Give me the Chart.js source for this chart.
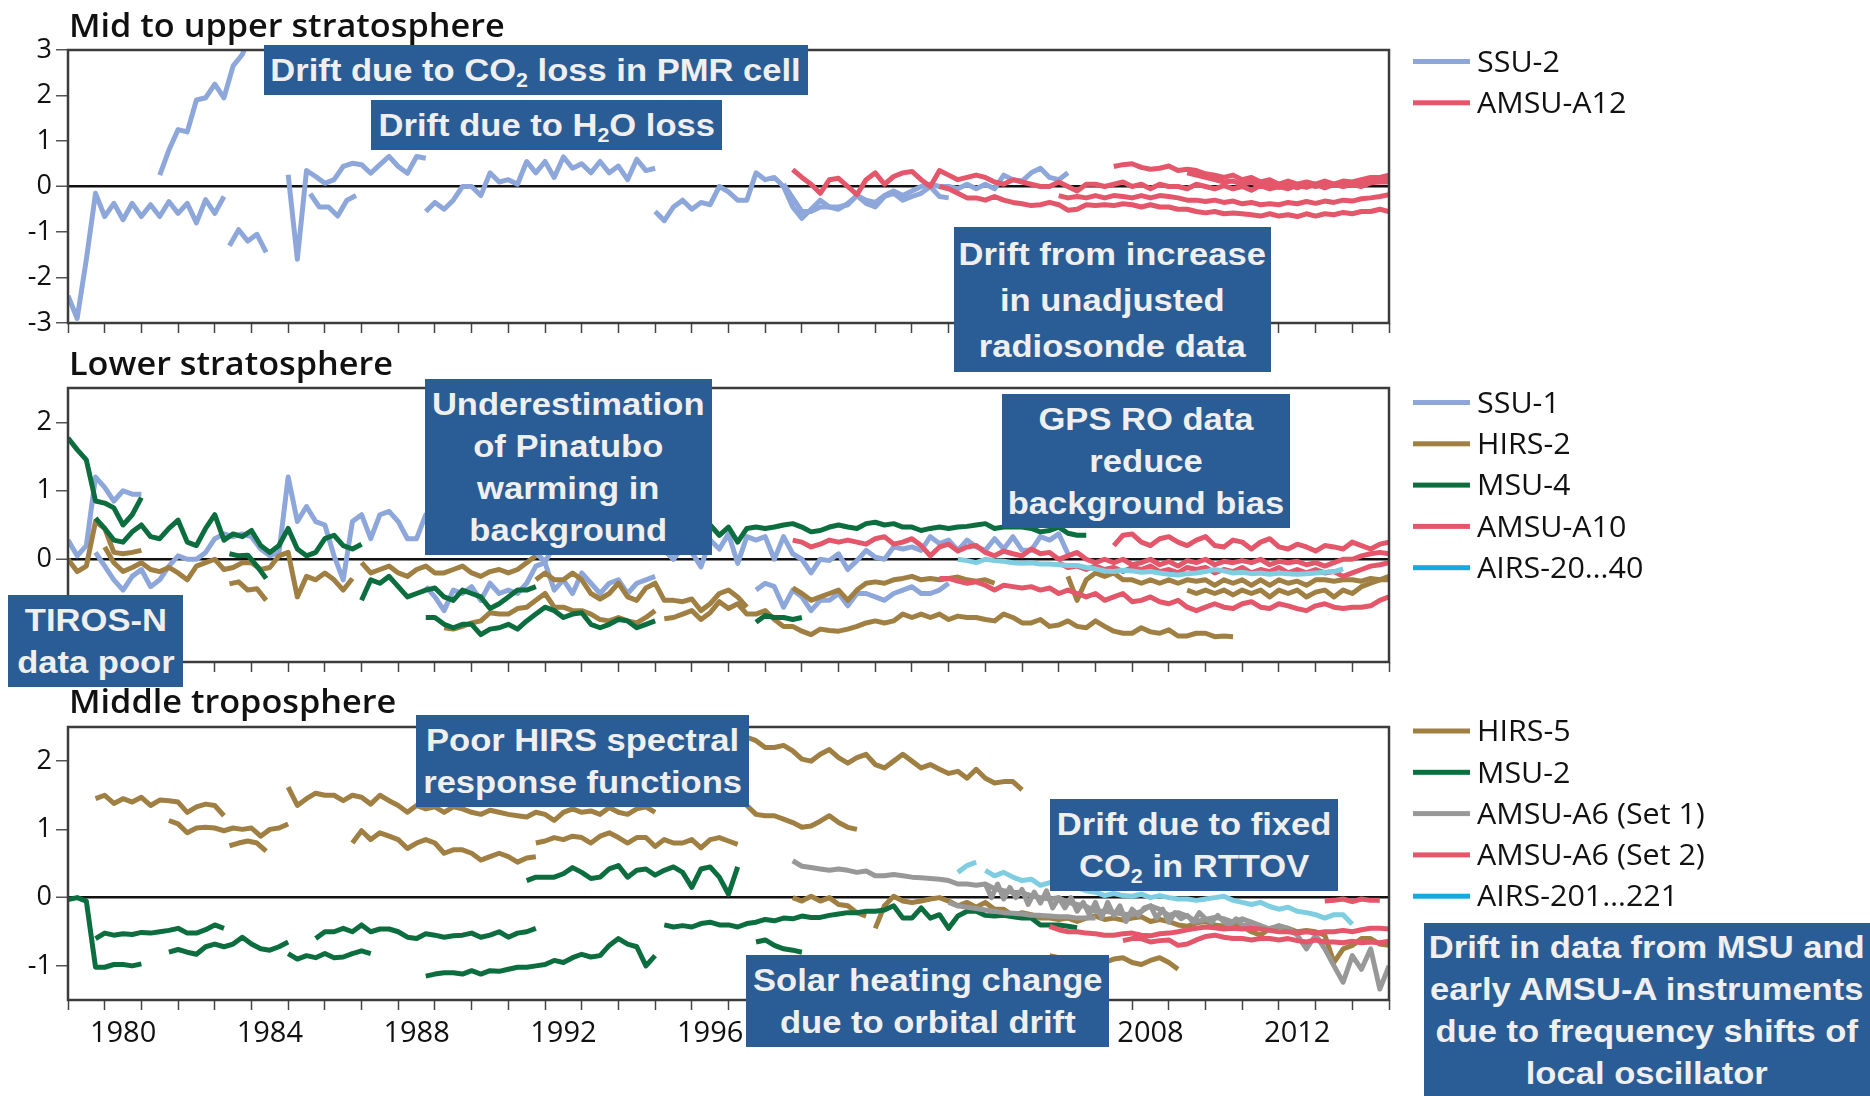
<!DOCTYPE html>
<html>
<head>
<meta charset="utf-8">
<script src="https://cdn.jsdelivr.net/npm/chart.js@4.4.1/dist/chart.umd.min.js"></script>
<style>
  html, body { margin: 0; padding: 0; background: #fff; }
  #wrap { position: relative; width: 1870px; height: 1096px; overflow: hidden; }
  canvas { position: absolute; left: 0; top: 0; }
  .note { position: absolute; background: #2a5c96; color: #efefef; display: flex;
          align-items: center; justify-content: center; z-index: 5; }
  .note div { font: bold 32px "Liberation Sans", Arial, sans-serif; line-height: 42px;
              text-align: center; white-space: nowrap; transform: scaleX(1.08); }
  .note sub { font-size: 0.62em; vertical-align: -0.3em; line-height: 0; }
</style>
</head>
<body>
<div id="wrap">
  <canvas id="p1" width="1870" height="1096" style="width:1870px;height:1096px"></canvas>
  <canvas id="p2" width="1870" height="1096" style="width:1870px;height:1096px"></canvas>
  <canvas id="p3" width="1870" height="1096" style="width:1870px;height:1096px"></canvas>

  <div class="note" style="left:264px;top:45px;width:544px;height:50px"><div>Drift due to CO<sub>2</sub> loss in PMR cell</div></div>
  <div class="note" style="left:371px;top:100px;width:351px;height:50px"><div>Drift due to H<sub>2</sub>O loss</div></div>
  <div class="note" style="left:954px;top:227px;width:317px;height:145px"><div style="line-height:46px">Drift from increase<br>in unadjusted<br>radiosonde data</div></div>
  <div class="note" style="left:425px;top:379px;width:287px;height:176px"><div>Underestimation<br>of Pinatubo<br>warming in<br>background</div></div>
  <div class="note" style="left:1002px;top:394px;width:288px;height:134px"><div>GPS RO data<br>reduce<br>background bias</div></div>
  <div class="note" style="left:8px;top:595px;width:175px;height:92px"><div>TIROS-N<br>data poor</div></div>
  <div class="note" style="left:416px;top:715px;width:333px;height:92px"><div>Poor HIRS spectral<br>response functions</div></div>
  <div class="note" style="left:1050px;top:799px;width:288px;height:92px"><div>Drift due to fixed<br>CO<sub>2</sub> in RTTOV</div></div>
  <div class="note" style="left:746px;top:955px;width:363px;height:92px"><div>Solar heating change<br>due to orbital drift</div></div>
  <div class="note" style="left:1424px;top:923px;width:446px;height:173px"><div>Drift in data from MSU and<br>early AMSU-A instruments<br>due to frequency shifts of<br>local oscillator</div></div>
</div>

<script>
// sampling step of the digitised records (years)
const QUARTER = 0.25;
const SIXTH = 1 / 6;

// axis ticks
const Y_TICKS_UPPER = [-3, -2, -1, 0, 1, 2, 3];
const Y_TICKS_LOWER = [-1, 0, 1, 2];
const X_LABEL_YEARS = [1980, 1984, 1988, 1992, 1996, 2000, 2004, 2008, 2012];
const YEAR_TICKS = [];
for (let y = 1979; y <= 2015; y++) YEAR_TICKS.push(y);

// ---------- Mid to upper stratosphere ----------
const SSU2_START = [1979.0, 1981.5, 1983.4, 1985.0, 1985.6, 1988.75, 1995.0, 1998.5];
const SSU2_VALUES = [
  [-2.4, -2.9, -1.6, -0.15, -0.66, -0.37, -0.73, -0.37, -0.66, -0.4, -0.66, -0.33, -0.59, -0.37, -0.8, -0.29, -0.59, -0.22],
  [0.25, 0.8, 1.25, 1.2, 1.9, 1.95, 2.25, 1.95, 2.65, 2.9, 3.4],
  [-1.3, -0.95, -1.2, -1.05, -1.45],
  [0.26, -1.6, 0.35, 0.22, 0.07, 0.15, 0.44, 0.51, 0.48, 0.29, 0.48, 0.66, 0.44, 0.29, 0.66, 0.62],
  [-0.16, -0.45, -0.45, -0.65, -0.3, -0.2],
  [-0.55, -0.35, -0.5, -0.3, 0.0, 0.0, -0.2, 0.3, 0.1, 0.15, 0.05, 0.55, 0.3, 0.55, 0.2, 0.65, 0.4, 0.5, 0.3, 0.55, 0.3, 0.45, 0.15, 0.6, 0.35, 0.4],
  [-0.55, -0.75, -0.45, -0.3, -0.5, -0.35, -0.4, 0.0, -0.12, -0.3, -0.3, 0.3, 0.15, 0.2, 0.0, -0.45, -0.7, -0.5, -0.3, -0.45, -0.5, -0.37, -0.2, -0.37, -0.45, -0.22, -0.15, -0.3, -0.22, -0.15, 0.0, -0.22, -0.25],
  [0.05, -0.25, -0.55, -0.55, -0.45, -0.45, -0.45, -0.4, -0.2, -0.3, -0.35, -0.2, -0.1, -0.2, -0.1, 0.0, 0.05, 0.0, 0.0, -0.05, 0.05, -0.05, 0.05, -0.05, 0.25, 0.15, 0.12, 0.3, 0.4, 0.2, 0.15, 0.3]
];
const A12_START = [1998.75, 2002.75, 2006.0, 2007.5, 2009.5];
const A12_VALUES = [
  [0.37, 0.2, 0.05, -0.15, 0.15, 0.18, 0.0, -0.18, 0.15, 0.3, 0.05, 0.22, 0.3, 0.33, 0.15, 0.0, 0.35, 0.25, 0.15, 0.2, 0.25, 0.2, 0.1, 0.05, 0.15, 0.1, 0.05, 0.0, 0.0, 0.1, 0.0, -0.1, 0.05, 0.05, 0.0, 0.05, 0.1, 0.0, 0.05, -0.05, 0.05, 0.0, 0.0, -0.05, 0.05, 0.0, -0.05, 0.02, -0.05, 0.0, -0.08, 0.02, -0.05, 0.0, -0.05, 0.03, -0.02, 0.05, -0.03, 0.05, 0.0, 0.05, 0.0, 0.08, 0.1, 0.1],
  [0.0, -0.05, -0.15, -0.25, -0.25, -0.3, -0.22, -0.3, -0.35, -0.38, -0.42, -0.4, -0.35, -0.4, -0.52, -0.5, -0.4, -0.42, -0.4, -0.42, -0.38, -0.4, -0.45, -0.4, -0.45, -0.45, -0.5, -0.5, -0.55, -0.58, -0.55, -0.6, -0.58, -0.6, -0.62, -0.65, -0.6, -0.65, -0.62, -0.66, -0.6, -0.65, -0.6, -0.62, -0.57, -0.6, -0.55, -0.55, -0.5, -0.55],
  [-0.2, -0.25, -0.22, -0.25, -0.2, -0.25, -0.2, -0.22, -0.25, -0.2, -0.25, -0.2, -0.22, -0.25, -0.3, -0.3, -0.33, -0.3, -0.35, -0.32, -0.38, -0.35, -0.4, -0.38, -0.4, -0.35, -0.38, -0.33, -0.37, -0.32, -0.35, -0.3, -0.32, -0.27, -0.25, -0.22, -0.18],
  [0.44, 0.48, 0.5, 0.42, 0.38, 0.4, 0.45, 0.35, 0.38, 0.35, 0.28, 0.25, 0.2, 0.25, 0.15, 0.2, 0.1, 0.15, 0.05, 0.12, 0.05, 0.1, 0.05, 0.12, 0.05, 0.12, 0.1, 0.15, 0.2, 0.2, 0.25],
  [0.3, 0.25, 0.2, 0.15, 0.1, 0.12, 0.05, 0.1, 0.0, 0.05, -0.02, 0.05, -0.03, 0.05, 0.0, 0.05, 0.02, 0.08, 0.05, 0.1, 0.08, 0.15, 0.2]
];

// ---------- Lower stratosphere ----------
const SSU1_START = [1979.0, 1979.75, 1988.75, 1997.75];
const SSU1_VALUES = [
  [0.28, 0.05, 0.2, 1.2, 1.05, 0.85, 1.0, 0.95, 0.95],
  [0.1, -0.1, -0.3, -0.45, -0.25, -0.15, -0.4, -0.3, -0.1, 0.05, 0.0, 0.0, 0.1, 0.3, 0.37, 0.33, 0.37, 0.33, 0.15, 0.05, 0.1, 1.2, 0.55, 0.77, 0.55, 0.5, 0.05, -0.3, 0.55, 0.65, 0.3, 0.65, 0.7, 0.55, 0.3, 0.3, 0.65, 0.45, 0.3, 0.6, 0.35, 0.5, 0.3, 0.55, 0.35, 0.45, 0.3, 0.35, 0.1, -0.04, 0.2, 0.35, 0.2, 0.3, 0.15, 0.3, 0.15, 0.3, 0.2, 0.3, 0.15, 0.3, 0.13, 0.0, 0.18, 0.1, -0.11, 0.28, 0.15, 0.37, -0.06, 0.33, 0.28, 0.33, 0.0, 0.33, 0.08, 0.0, -0.2, 0.0, -0.02, 0.08, -0.15, -0.02, 0.13, 0.03, 0.0, 0.18, 0.15, 0.18, 0.13, 0.33, 0.23, 0.28, 0.13, 0.28, 0.18, 0.13, 0.3, 0.15, 0.33, 0.13, 0.13, 0.33, 0.28, 0.37, 0.08],
  [-0.4, -0.55, -0.75, -0.45, -0.5, -0.4, -0.6, -0.35, -0.5, -0.45, -0.5, -0.35, -0.1, -0.05, -0.45, -0.3, -0.5, -0.2, -0.35, -0.5, -0.35, -0.3, -0.5, -0.35, -0.3, -0.25],
  [-0.45, -0.35, -0.4, -0.7, -0.45, -0.55, -0.75, -0.6, -0.6, -0.5, -0.68, -0.5, -0.5, -0.55, -0.6, -0.5, -0.45, -0.4, -0.5, -0.5, -0.45, -0.35]
];
const HIRS2_START = [1979.0, 1980.0, 1983.4, 1987.0, 1991.75, 1989.25, 1995.25, 1998.75, 2006.25, 2009.5];
const HIRS2_VALUES = [
  [0.0, -0.18, -0.1, 0.55, 0.45, 0.1, 0.08, 0.1, 0.13],
  [0.18, -0.05, -0.18, -0.12, -0.05, -0.15, -0.18, -0.12, -0.2, -0.3, -0.1, -0.05, 0.0, -0.15, -0.12, -0.05, -0.05, -0.15, -0.12, 0.05, 0.1, -0.55, -0.25, -0.3, -0.2, -0.3, -0.45, -0.28],
  [-0.36, -0.33, -0.45, -0.43, -0.6],
  [-0.05, -0.2, -0.15, -0.1, -0.2, -0.25, -0.15, -0.1, -0.2, -0.2, -0.15, -0.1, -0.2, -0.25, -0.18, -0.15, -0.2, -0.15, -0.05, 0.05],
  [-0.3, -0.2, -0.3, -0.3, -0.2, -0.3, -0.5, -0.58, -0.5, -0.35, -0.55, -0.6, -0.42, -0.35, -0.6, -0.6, -0.62, -0.58, -0.75, -0.65, -0.5, -0.45, -0.55, -0.7],
  [-1.0, -1.02, -0.98, -0.93, -0.9, -0.78, -0.8, -0.8, -0.72, -0.7, -0.6, -0.5, -0.7, -0.7, -0.75, -0.75, -0.8, -0.88, -0.9, -0.85, -0.9, -0.93, -0.85, -0.75],
  [-0.87, -0.85, -0.8, -0.75, -0.88, -0.78, -0.62, -0.72, -0.65, -0.8, -0.8, -0.75, -0.88, -0.98, -0.98, -1.05, -1.1, -1.02, -1.04, -1.05, -1.02, -0.98, -0.93, -0.9, -0.93, -0.9, -0.8, -0.85, -0.8, -0.85, -0.8, -0.88, -0.83, -0.85, -0.85, -0.88, -0.9, -0.8, -0.85, -0.93, -0.93, -0.88, -0.98, -0.96, -0.9, -0.98, -1.0, -0.9, -0.98, -1.05, -1.08, -1.08, -1.0, -1.06, -1.08, -1.03, -1.12, -1.12, -1.08, -1.08, -1.13, -1.12, -1.13],
  [-0.42, -0.5, -0.6, -0.55, -0.5, -0.45, -0.6, -0.45, -0.35, -0.33, -0.35, -0.3, -0.28, -0.25, -0.3, -0.28, -0.3, -0.28, -0.26, -0.3, -0.32, -0.3, -0.35],
  [-0.25, -0.6, -0.3, -0.2, -0.25, -0.2, -0.3, -0.3, -0.35, -0.3, -0.35, -0.3, -0.35, -0.3, -0.32, -0.3, -0.38, -0.3, -0.35, -0.3, -0.38, -0.3, -0.38, -0.3, -0.35, -0.32, -0.38, -0.3, -0.3, -0.32, -0.3, -0.3, -0.32, -0.28, -0.3, -0.3],
  [-0.45, -0.5, -0.45, -0.5, -0.45, -0.52, -0.45, -0.5, -0.45, -0.55, -0.45, -0.5, -0.45, -0.55, -0.48, -0.45, -0.55, -0.45, -0.5, -0.4, -0.35, -0.3, -0.25]
];
const MSU4_START = [1979.0, 1979.75, 1983.4, 1987.0, 1988.75, 1996.5, 1997.75];
const MSU4_VALUES = [
  [1.77, 1.6, 1.45, 0.85, 0.82, 0.75, 0.5, 0.65, 0.9],
  [0.6, 0.45, 0.28, 0.25, 0.4, 0.5, 0.33, 0.3, 0.45, 0.57, 0.25, 0.2, 0.45, 0.65, 0.28, 0.37, 0.33, 0.42, 0.2, 0.1, 0.2, 0.45, 0.15, 0.05, 0.1, 0.3, 0.35, 0.2, 0.15, 0.22],
  [0.08, 0.05, 0.06, -0.1, -0.28],
  [-0.6, -0.3, -0.35, -0.25, -0.4, -0.55, -0.5, -0.45, -0.42, -0.55, -0.6, -0.45, -0.5, -0.55, -0.72, -0.65, -0.55, -0.45, -0.45, -0.4],
  [-0.85, -0.85, -0.95, -1.0, -0.95, -0.95, -1.1, -1.02, -1.0, -0.95, -1.02, -0.9, -0.8, -0.7, -0.75, -0.85, -0.8, -0.78, -0.95, -1.0, -0.95, -0.88, -0.9, -1.0, -0.95, -0.9],
  [0.5, 0.35, 0.47, 0.25, 0.45, 0.47, 0.45, 0.47, 0.5, 0.52, 0.47, 0.4, 0.42, 0.47, 0.5, 0.47, 0.45, 0.52, 0.54, 0.5, 0.52, 0.47, 0.47, 0.42, 0.45, 0.47, 0.45, 0.47, 0.48, 0.5, 0.52, 0.45, 0.47, 0.47, 0.47, 0.45, 0.4, 0.42, 0.47, 0.38, 0.35, 0.35],
  [-0.92, -0.82, -0.85, -0.85, -0.88, -0.85]
];
const A10_START = [1998.75, 2002.75, 2006.0, 2007.5];
const A10_VALUES = [
  [0.28, 0.25, 0.18, 0.22, 0.28, 0.25, 0.28, 0.25, 0.22, 0.3, 0.33, 0.22, 0.25, 0.3, 0.2, 0.05, 0.18, 0.22, 0.12, 0.18, 0.2, 0.1, 0.05, 0.12, 0.08, 0.05, 0.15, 0.08, 0.1, 0.0, 0.05, 0.1, 0.0, -0.05, 0.0, -0.05, 0.0, -0.08, -0.05, 0.0, -0.08, -0.03, -0.1, -0.02, -0.05, 0.0, -0.08, -0.03, -0.05, -0.02, -0.05, 0.0, -0.08, -0.03, -0.05, -0.03, -0.08, -0.05, -0.1, -0.05, 0.0, 0.0, 0.05, 0.08, 0.1, 0.08],
  [-0.28, -0.28, -0.32, -0.35, -0.33, -0.38, -0.45, -0.38, -0.4, -0.42, -0.4, -0.45, -0.42, -0.5, -0.45, -0.5, -0.55, -0.5, -0.6, -0.55, -0.5, -0.62, -0.6, -0.55, -0.62, -0.65, -0.6, -0.7, -0.75, -0.7, -0.65, -0.7, -0.72, -0.65, -0.62, -0.7, -0.72, -0.65, -0.68, -0.72, -0.75, -0.68, -0.65, -0.7, -0.72, -0.7, -0.7, -0.68, -0.6, -0.55],
  [-0.05, -0.12, -0.1, -0.15, -0.1, -0.15, -0.12, -0.18, -0.12, -0.15, -0.1, -0.18, -0.15, -0.2, -0.12, -0.15, -0.12, -0.2, -0.15, -0.18, -0.12, -0.2, -0.15, -0.18, -0.12, -0.2, -0.15, -0.2, -0.15, -0.2, -0.18, -0.25, -0.2, -0.15, -0.1, -0.08, -0.05],
  [0.2, 0.35, 0.37, 0.25, 0.2, 0.3, 0.33, 0.25, 0.2, 0.28, 0.33, 0.2, 0.18, 0.28, 0.25, 0.15, 0.25, 0.3, 0.18, 0.15, 0.22, 0.18, 0.12, 0.2, 0.18, 0.15, 0.25, 0.2, 0.15, 0.22, 0.25]
];
const AIRS_LS_START = [2003.25];
const AIRS_LS_VALUES = [
  [0.0, -0.02, -0.05, 0.0, -0.02, -0.03, -0.05, -0.06, -0.05, -0.07, -0.07, -0.08, -0.09, -0.09, -0.12, -0.14, -0.17, -0.18, -0.16, -0.17, -0.19, -0.18, -0.2, -0.22, -0.23, -0.21, -0.2, -0.18, -0.15, -0.17, -0.2, -0.19, -0.21, -0.2, -0.22, -0.2, -0.21, -0.22, -0.21, -0.2, -0.19, -0.18, -0.14]
];

// ---------- Middle troposphere ----------
const HIRS5_START = [1979.75, 1981.75, 1983.4, 1985.0, 1986.75, 1991.75, 1997.5, 1997.5, 1998.75, 2001.0, 2005.75];
const HIRS5_VALUES = [
  [1.45, 1.5, 1.38, 1.45, 1.4, 1.47, 1.35, 1.43, 1.42, 1.4, 1.25, 1.33, 1.37, 1.35, 1.2],
  [1.13, 1.08, 0.95, 1.02, 1.03, 1.02, 0.98, 1.02, 1.0, 1.02, 0.9, 1.0, 1.02, 1.08],
  [0.76, 0.8, 0.83, 0.8, 0.68],
  [1.62, 1.35, 1.45, 1.53, 1.5, 1.5, 1.42, 1.5, 1.47, 1.37, 1.5, 1.42, 1.35, 1.25, 1.35, 1.3, 1.33, 1.25, 1.33, 1.3, 1.25, 1.22, 1.28, 1.25, 1.22, 1.2, 1.18, 1.25, 1.22, 1.13, 1.25, 1.3, 1.25, 1.27, 1.22, 1.32, 1.25, 1.22, 1.3, 1.33, 1.25],
  [0.8, 0.98, 0.85, 0.95, 0.9, 0.85, 0.72, 0.8, 0.85, 0.8, 0.65, 0.7, 0.7, 0.65, 0.55, 0.6, 0.65, 0.6, 0.52, 0.58, 0.6],
  [0.8, 0.83, 0.88, 0.85, 0.9, 0.88, 0.8, 0.9, 0.95, 0.88, 0.8, 0.88, 0.88, 0.75, 0.85, 0.8, 0.8, 0.85, 0.73, 0.85, 0.88, 0.83, 0.78],
  [2.35, 2.3, 2.2, 2.2, 2.23, 2.15, 2.03, 2.0, 2.1, 2.17, 2.05, 1.97, 2.05, 2.1, 1.95, 1.9, 2.0, 2.1, 2.0, 1.9, 1.95, 1.88, 1.82, 1.85, 1.75, 1.88, 1.75, 1.68, 1.7, 1.7, 1.58],
  [1.35, 1.22, 1.2, 1.2, 1.15, 1.1, 1.03, 1.05, 1.12, 1.2, 1.1, 1.03, 1.0],
  [0.0, -0.05, 0.02, -0.05, 0.0, -0.1, -0.12, -0.22, -0.27],
  [-0.45, -0.12, 0.02, -0.05, -0.07, -0.05, -0.02, 0.0, -0.05, -0.12, -0.07, -0.14, -0.07, -0.17, -0.17, -0.26, -0.22, -0.25, -0.3, -0.3, -0.32, -0.3, -0.35, -0.3, -0.27, -0.32, -0.3, -0.33, -0.3, -0.28, -0.35, -0.32, -0.35, -0.4, -0.42, -0.37, -0.35, -0.4, -0.42, -0.4, -0.42, -0.5, -0.55, -0.45, -0.42, -0.45, -0.5, -0.48, -0.5, -0.55, -0.95, -0.75, -0.7, -0.6, -0.6, -0.68, -0.7],
  [-0.85, -0.88, -0.9, -0.88, -0.9, -0.92, -0.95, -0.9, -0.88, -0.95, -0.98, -0.92, -0.88, -0.95, -1.05]
];
const MSU2_START = [1979.0, 1979.75, 1981.75, 1985.0, 1985.75, 1988.75, 1991.5, 1995.25, 1997.75];
const MSU2_VALUES = [
  [-0.03, 0.0, -0.05, -1.02, -1.02, -0.98, -0.98, -1.0, -0.97],
  [-0.6, -0.52, -0.55, -0.53, -0.54, -0.51, -0.52, -0.5, -0.48, -0.45, -0.52, -0.52, -0.47, -0.4, -0.45],
  [-0.8, -0.76, -0.8, -0.83, -0.72, -0.68, -0.72, -0.68, -0.58, -0.68, -0.75, -0.77, -0.72, -0.65],
  [-0.82, -0.9, -0.85, -0.88, -0.82, -0.88, -0.87, -0.82, -0.78, -0.82],
  [-0.6, -0.5, -0.5, -0.45, -0.5, -0.4, -0.5, -0.46, -0.46, -0.5, -0.58, -0.6, -0.53, -0.55, -0.58, -0.56, -0.55, -0.52, -0.58, -0.55, -0.5, -0.58, -0.52, -0.5, -0.45],
  [-1.15, -1.12, -1.1, -1.1, -1.12, -1.07, -1.12, -1.07, -1.08, -1.05, -1.02, -1.02, -1.0, -0.98, -0.92, -0.95, -0.88, -0.83, -0.87, -0.85, -0.7, -0.6, -0.68, -0.72, -1.0, -0.85],
  [0.25, 0.3, 0.3, 0.3, 0.35, 0.44, 0.37, 0.28, 0.3, 0.42, 0.47, 0.3, 0.4, 0.42, 0.33, 0.4, 0.45, 0.37, 0.15, 0.42, 0.45, 0.3, 0.05, 0.45],
  [-0.4, -0.43, -0.41, -0.43, -0.38, -0.36, -0.4, -0.4, -0.43, -0.38, -0.36, -0.32, -0.34, -0.3, -0.31, -0.27, -0.29, -0.29, -0.26, -0.24, -0.22, -0.22, -0.2, -0.2, -0.18, -0.12, -0.3, -0.3, -0.15, -0.3, -0.25, -0.45, -0.27, -0.2, -0.2, -0.26, -0.27, -0.26, -0.28, -0.3, -0.3, -0.4, -0.4, -0.4, -0.42, -0.44],
  [-0.65, -0.62, -0.7, -0.75, -0.77, -0.8]
];
const A6S1_START = [1998.75, 2004.0, 2003.0];
const A6S1_STEP = [QUARTER, SIXTH, QUARTER];
const A6S1_VALUES = [
  [0.54, 0.46, 0.44, 0.42, 0.4, 0.42, 0.4, 0.37, 0.39, 0.32, 0.32, 0.34, 0.32, 0.3, 0.29, 0.28, 0.27, 0.25, 0.2, 0.2, 0.18, 0.2, 0.13, 0.1, 0.08, 0.07, 0.03, 0.0, -0.02, 0.0, -0.07, -0.1, -0.13, -0.2, -0.2, -0.22, -0.24, -0.25, -0.2, -0.12, -0.17, -0.26, -0.22, -0.27, -0.35, -0.32, -0.29, -0.31, -0.36, -0.31, -0.36, -0.41, -0.46, -0.41, -0.45, -0.55, -0.75, -0.55, -0.75, -1.0, -1.24, -0.85, -1.05, -0.75, -1.34, -1.0],
  [0.2, 0.0, 0.2, -0.02, 0.15, 0.0, 0.12, -0.1, 0.08, -0.08, 0.1, -0.15, 0.0, -0.15, 0.0, -0.2, -0.07, -0.25, -0.07, -0.3, -0.07, -0.26, -0.12, -0.35, -0.17, -0.26, -0.15, -0.12, -0.3, -0.17, -0.36, -0.22, -0.31, -0.26, -0.36, -0.22, -0.31, -0.36, -0.26, -0.36, -0.4, -0.31, -0.4, -0.41, -0.46],
  [-0.07, -0.12, -0.14, -0.16, -0.18, -0.2, -0.22, -0.23, -0.24, -0.26, -0.26, -0.27, -0.28, -0.28, -0.3, -0.3, -0.3]
];
const A6S2_START = [2005.75, 2007.75, 2013.25];
const A6S2_VALUES = [
  [-0.42, -0.47, -0.5, -0.5, -0.52, -0.53, -0.55, -0.55, -0.53, -0.52, -0.55, -0.56, -0.53, -0.52, -0.5, -0.47, -0.45, -0.43, -0.44, -0.46, -0.45, -0.46, -0.45, -0.46, -0.48, -0.5, -0.5, -0.52, -0.5, -0.52, -0.5, -0.5, -0.48, -0.5, -0.47, -0.45, -0.45, -0.46],
  [-0.63, -0.6, -0.6, -0.65, -0.63, -0.62, -0.7, -0.68, -0.62, -0.57, -0.55, -0.58, -0.6, -0.6, -0.62, -0.6, -0.6, -0.62, -0.6, -0.63, -0.65, -0.62, -0.65, -0.65, -0.66, -0.64, -0.66, -0.65, -0.66, -0.64],
  [-0.05, -0.04, -0.02, -0.06, -0.02, -0.04, -0.04]
];
const AIRS_MT_START = [2003.25, 2004.0];
const AIRS_MT_VALUES = [
  [0.37, 0.47, 0.52],
  [0.4, 0.32, 0.37, 0.3, 0.25, 0.27, 0.18, 0.22, 0.25, 0.18, 0.15, 0.1, 0.08, 0.03, 0.06, 0.03, 0.02, 0.05, 0.0, 0.03, 0.0, -0.02, -0.02, -0.04, -0.02, 0.0, 0.02, -0.04, -0.07, -0.1, -0.07, -0.13, -0.17, -0.14, -0.2, -0.22, -0.25, -0.3, -0.25, -0.25, -0.39]
];

const COLORS = {
  ssu: '#8ea7da', amsu: '#e4566a', hirs: '#a07f43', msu: '#0c6d3f',
  gray: '#989898', airs: '#7fcde1', airsKey: '#18a7e1'
};

const framePlugin = {
  id: 'frame',
  afterDatasetsDraw(chart) {
    const { ctx, chartArea: a } = chart;
    ctx.save();
    ctx.strokeStyle = '#3c3c3c';
    ctx.lineWidth = 2.5;
    ctx.strokeRect(a.left, a.top, a.right - a.left, a.bottom - a.top);
    ctx.restore();
  }
};

function wideText(ctx, text, x, y, sx) {
  ctx.save();
  ctx.translate(x, y);
  ctx.scale(sx, 1);
  ctx.fillText(text, 0, 0);
  ctx.restore();
}

// panel title and the key on the right
const sidePlugin = {
  id: 'side',
  afterDraw(chart, args, o) {
    const ctx = chart.ctx;
    ctx.save();
    ctx.fillStyle = '#111';
    ctx.textBaseline = 'alphabetic';
    ctx.font = '600 32px "Open Sans"';
    wideText(ctx, o.title, 69, o.titleY, 1.07);
    ctx.font = '29px "Open Sans"';
    ctx.textBaseline = 'middle';
    o.items.forEach((it, i) => {
      const y = o.keyY + i * 41.3;
      ctx.fillStyle = it.color;
      ctx.fillRect(1413, y - 2.5, 57, 5);
      ctx.fillStyle = '#111';
      wideText(ctx, it.label, 1477, y + 2, 1.05);
    });
    ctx.restore();
  }
};

function lineSets(color, starts, values, step) {
  return starts.map((s, k) => ({
    data: values[k].map((v, i) => ({ x: s + i * (Array.isArray(step) ? step[k] : step), y: v })),
    borderColor: color,
    borderWidth: 5,
    pointRadius: 0,
    borderJoinStyle: 'round',
    fill: false
  }));
}

function panel(id, o) {
  const sets = o.series.flatMap(s => lineSets(s.color, s.starts, s.values, s.step));
  sets.reverse(); // dataset 0 is painted last, so the last listed series ends up underneath
  return new Chart(document.getElementById(id), {
    type: 'line',
    data: { datasets: sets },
    options: {
      responsive: false,
      animation: false,
      events: [],
      layout: { padding: { left: 0, right: 481, top: o.top, bottom: 1096 - 60 - o.bottom } },
      plugins: {
        legend: { display: false },
        tooltip: { enabled: false },
        side: {
          title: o.title, titleY: o.titleY, keyY: o.keyY,
          items: o.series.filter(s => s.key).map(s => ({ label: s.key, color: s.keyColor || s.color }))
        }
      },
      scales: {
        x: {
          type: 'linear', min: 1979, max: 2015,
          afterFit: s => { s.height = 60; },
          afterBuildTicks: s => { s.ticks = YEAR_TICKS.map(v => ({ value: v })); },
          border: { display: false },
          grid: { drawOnChartArea: false, tickLength: 10, tickColor: '#444', tickWidth: 1.5 },
          ticks: {
            autoSkip: false, maxRotation: 0, labelOffset: 18.35, padding: 6, color: '#111',
            font: { family: 'Open Sans', size: 29 },
            callback: v => o.xLabels.includes(v) ? String(v) : ''
          }
        },
        y: {
          min: o.min, max: o.max,
          afterFit: s => { s.width = 68; },
          afterBuildTicks: s => { s.ticks = o.yTicks.map(v => ({ value: v })); },
          border: { display: false },
          grid: {
            color: c => (c.tick && c.tick.value === 0) ? '#111' : 'rgba(0,0,0,0)',
            lineWidth: c => (c.tick && c.tick.value === 0) ? 2.5 : 1.5,
            tickLength: 12, tickColor: '#555', tickWidth: 1.5
          },
          ticks: { padding: 4, color: '#111', font: { family: 'Open Sans', size: 27 }, callback: v => String(v) }
        }
      }
    },
    plugins: [framePlugin, sidePlugin]
  });
}

// series listed bottom-to-top in drawing order; the key follows the same order
panel('p1', {
  title: 'Mid to upper stratosphere', titleY: 37, keyY: 61.5,
  top: 50, bottom: 323, min: -3, max: 3, yTicks: Y_TICKS_UPPER, xLabels: [],
  series: [
    { key: 'SSU-2', color: COLORS.ssu, starts: SSU2_START, values: SSU2_VALUES, step: QUARTER },
    { key: 'AMSU-A12', color: COLORS.amsu, starts: A12_START, values: A12_VALUES, step: QUARTER }
  ]
});

panel('p2', {
  title: 'Lower stratosphere', titleY: 375, keyY: 402.5,
  top: 388, bottom: 662, min: -1.5, max: 2.5, yTicks: Y_TICKS_LOWER, xLabels: [],
  series: [
    { key: 'SSU-1', color: COLORS.ssu, starts: SSU1_START, values: SSU1_VALUES, step: QUARTER },
    { key: 'HIRS-2', color: COLORS.hirs, starts: HIRS2_START, values: HIRS2_VALUES, step: QUARTER },
    { key: 'MSU-4', color: COLORS.msu, starts: MSU4_START, values: MSU4_VALUES, step: QUARTER },
    { key: 'AMSU-A10', color: COLORS.amsu, starts: A10_START, values: A10_VALUES, step: QUARTER },
    { key: 'AIRS-20…40', color: COLORS.airs, keyColor: COLORS.airsKey, starts: AIRS_LS_START, values: AIRS_LS_VALUES, step: QUARTER }
  ]
});

panel('p3', {
  title: 'Middle troposphere', titleY: 713, keyY: 731,
  top: 727, bottom: 1000, min: -1.5, max: 2.5, yTicks: Y_TICKS_LOWER, xLabels: X_LABEL_YEARS,
  series: [
    { key: 'HIRS-5', color: COLORS.hirs, starts: HIRS5_START, values: HIRS5_VALUES, step: QUARTER },
    { key: 'MSU-2', color: COLORS.msu, starts: MSU2_START, values: MSU2_VALUES, step: QUARTER },
    { key: 'AMSU-A6 (Set 1)', color: COLORS.gray, starts: A6S1_START, values: A6S1_VALUES, step: A6S1_STEP },
    { key: 'AMSU-A6 (Set 2)', color: COLORS.amsu, starts: A6S2_START, values: A6S2_VALUES, step: QUARTER },
    { key: 'AIRS-201…221', color: COLORS.airs, keyColor: COLORS.airsKey, starts: AIRS_MT_START, values: AIRS_MT_VALUES, step: QUARTER }
  ]
});
</script>
</body>
</html>
